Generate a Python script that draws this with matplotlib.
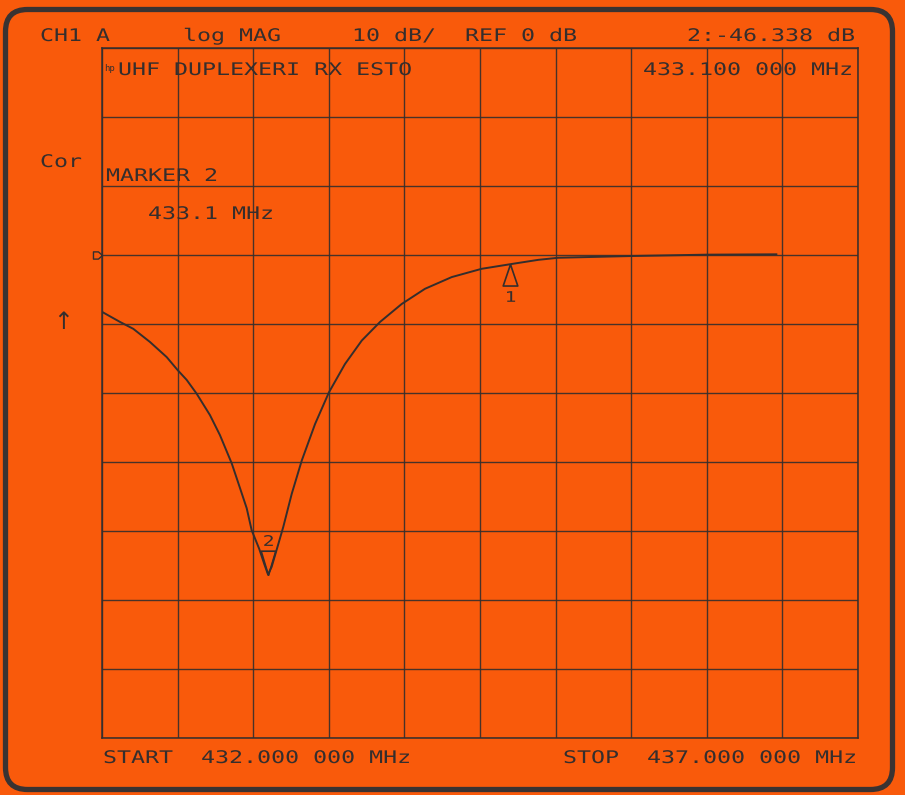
import matplotlib

matplotlib.use("Agg")

import matplotlib.pyplot as plt
import matplotlib.patheffects as pe
from matplotlib.patches import FancyBboxPatch
from matplotlib.transforms import Affine2D, IdentityTransform


# trace (CH1 A, log MAG, 10 dB/div, REF 0 dB)
freq_mhz = [
    432.005, 432.119, 432.207, 432.317, 432.428, 432.501, 432.560, 432.626,
    432.714, 432.780, 432.858, 432.913, 432.957, 432.990, 433.040, 433.075,
    433.098, 433.122, 433.166, 433.199, 433.255, 433.321, 433.409, 433.501,
    433.607, 433.718, 433.839, 433.982, 434.136, 434.313, 434.511, 434.710,
    434.886, 435.018, 435.500, 436.000, 436.460,
]
mag_db = [
    -8.3, -9.7, -10.7, -12.6, -14.8, -16.7, -18.1, -20.1,
    -23.2, -26.1, -30.2, -33.8, -36.7, -39.9, -42.6, -44.9,
    -46.3, -45.2, -41.9, -39.4, -34.6, -29.8, -24.5, -19.9,
    -15.8, -12.4, -9.7, -7.1, -4.9, -3.2, -2.0, -1.3,
    -0.7, -0.4, -0.15, 0.05, 0.1,
]

start_mhz = 432.0
stop_mhz = 437.0
ref_db = 0.0
db_per_div = 10
top_db = 30.0
bottom_db = -70.0

marker_freqs = [434.70, 433.10]
marker_levels = [-1.3, -46.338]
marker_names = ["1", "2"]

header_texts = [
    (40, "CH1 A"),
    (183, "log MAG"),
    (352, "10 dB/"),
    (465, "REF 0 dB"),
    (687, "2:-46.338 dB"),
]
footer_texts = [
    (103, "START  432.000 000 MHz"),
    (563, "STOP  437.000 000 MHz"),
]

W, H = 905, 795
ORANGE = "#f95a0b"
INK = "#352e2d"


class Stretch(pe.AbstractPathEffect):
    # widen glyphs so the text looks like the plotter's stroke font
    def __init__(self, sx):
        super().__init__()
        self.sx = sx

    def draw_path(self, renderer, gc, tpath, affine, rgbFace=None):
        m = affine.get_matrix().copy()
        m[:, 0] *= self.sx
        renderer.draw_path(gc, tpath, Affine2D(m), rgbFace)


STRETCH = [Stretch(1.34)]

fig = plt.figure(figsize=(W / 100, H / 100), dpi=100, facecolor=ORANGE)


def put(x, y, s, size=12.5, effects=STRETCH, family="DejaVu Sans Mono"):
    fig.text(
        x / W,
        1 - y / H,
        s,
        fontsize=size,
        family=family,
        color=INK,
        ha="left",
        va="baseline",
        path_effects=effects,
    )


ax = fig.add_axes([102 / W, (H - 738) / H, 756 / W, 690 / H])
ax.set_facecolor(ORANGE)

ax.set_xlim(start_mhz, stop_mhz)
ax.set_ylim(bottom_db, top_db)

n_x = 10
x_step = (stop_mhz - start_mhz) / n_x
ax.set_xticks([start_mhz + i * x_step for i in range(n_x + 1)])
ax.set_yticks(list(range(int(bottom_db), int(top_db) + 1, db_per_div)))
ax.tick_params(length=0, labelbottom=False, labelleft=False)
ax.grid(True, color=INK, linewidth=1.0, alpha=0.9)
for spine in ax.spines.values():
    spine.set_color(INK)
    spine.set_linewidth(1.1)

ax.plot(freq_mhz, mag_db, color=INK, linewidth=1.4, solid_joinstyle="round")

# markers: 1 = triangle below trace, 2 = inverted triangle above trace
tri_up = [(0, 0), (-0.34, -1), (0.34, -1), (0, 0)]
tri_down = [(0, 0), (-0.3, 1), (0.3, 1), (0, 0)]

ax.plot(marker_freqs[0], marker_levels[0], marker=tri_up, markersize=31,
        markerfacecolor="none", markeredgecolor=INK, markeredgewidth=1.2)
ax.plot(marker_freqs[1], marker_levels[1], marker=tri_down, markersize=35,
        markerfacecolor="none", markeredgecolor=INK, markeredgewidth=1.2)

ax.annotate(marker_names[0], (marker_freqs[0], marker_levels[0]),
            xytext=(-4, -24), textcoords="offset points", fontsize=10.5,
            family="DejaVu Sans Mono", color=INK, ha="left", va="center",
            path_effects=STRETCH)
ax.annotate(marker_names[1], (marker_freqs[1], marker_levels[1]),
            xytext=(-4, 24), textcoords="offset points", fontsize=10.5,
            family="DejaVu Sans Mono", color=INK, ha="left", va="center",
            path_effects=STRETCH)

# reference level pointer at the left edge
ref_mark = [(0, 0), (-0.45, 0.4), (-1, 0.4), (-1, -0.4), (-0.45, -0.4), (0, 0)]
ax.plot(start_mhz, ref_db, marker=ref_mark, markersize=13, clip_on=False,
        markerfacecolor="none", markeredgecolor=INK, markeredgewidth=1.0)

for x, s in header_texts:
    put(x, 41, s)

put(104, 71, "hp", size=6.5, effects=None)
put(118, 75, "UHF DUPLEXERI RX ESTO")
put(643, 75, "433.100 000 MHz")
put(40, 167, "Cor")
put(106, 181, "MARKER 2")
put(148, 219, "433.1 MHz")
put(53, 329, "\u2191", size=17, effects=None, family="DejaVu Sans")

for x, s in footer_texts:
    put(x, 763, s)

# rounded frame of the plotter sheet
frame = FancyBboxPatch(
    (5.5, 5.5),
    887,
    780,
    boxstyle="round,pad=0,rounding_size=22",
    transform=IdentityTransform(),
    facecolor="none",
    edgecolor="#3a3332",
    linewidth=3.8,
)
fig.patches.append(frame)

fig.savefig("out.png", dpi=100, facecolor=ORANGE)
